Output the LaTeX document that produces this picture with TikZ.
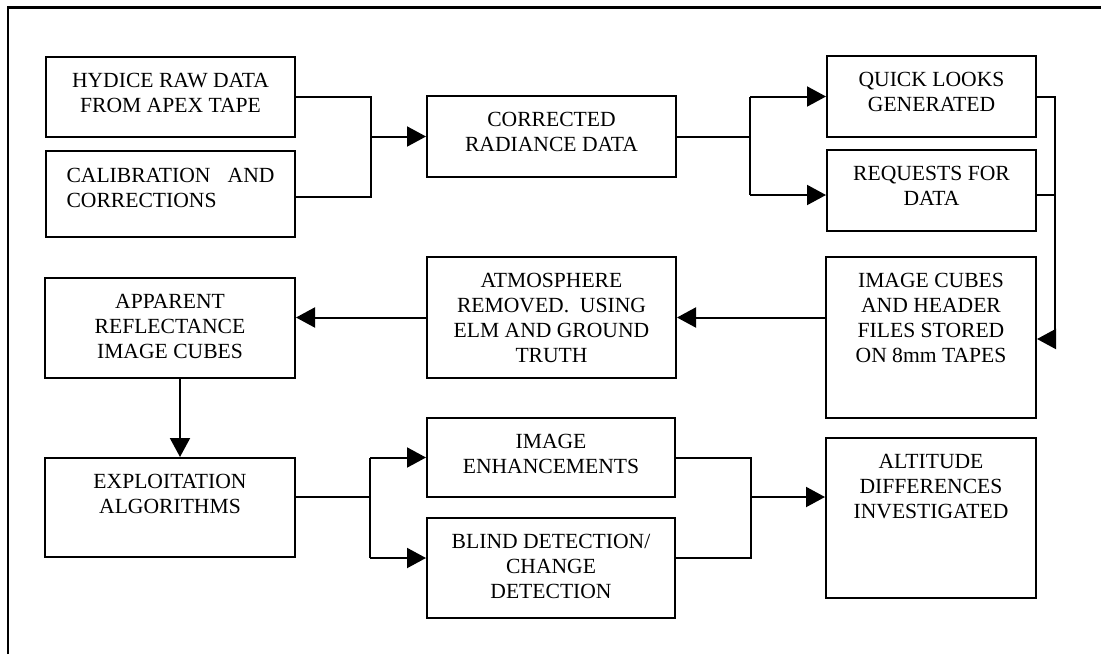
\documentclass[tikz,border=0pt]{standalone}
\usepackage{fontspec}
\setmainfont{Liberation Serif}
\usetikzlibrary{arrows.meta,calc}
\newcommand{\bxt}[3]{\parbox[c][#2pt][t]{#1pt}{\centering\vspace*{16pt}#3\par}}
\begin{document}
\begin{tikzpicture}[x=1pt,y=-1pt,
  box/.style={draw,line width=2pt,inner sep=0pt,font=\fontsize{21.6}{25}\selectfont},
  conn/.style={line width=2pt},
  arr/.style={line width=2pt,-{Triangle[length=19pt,width=20pt]}}]
\useasboundingbox (0,0) rectangle (1101,654);
% outer frame
\draw[line width=2.4pt] (8,654) -- (8,7.5) -- (1101,7.5);
% boxes
\node[box] (hyd) at (170.5,97) {\bxt{249}{80}{HYDICE RAW DATA\\FROM APEX TAPE}};
\node[box] (cal) at (170.5,194) {\parbox[c][86pt][t]{249pt}{\centering\vspace*{17pt}\parbox[t]{208pt}{CALIBRATION\hfill AND\\CORRECTIONS}\par}};
\node[box] (cor) at (551.5,136.5) {\bxt{249}{81}{CORRECTED\\RADIANCE DATA}};
\node[box] (qck) at (931.5,96.5) {\bxt{209}{81}{QUICK LOOKS\\GENERATED}};
\node[box] (req) at (931.5,190.5) {\bxt{209}{81}{REQUESTS FOR\\DATA}};
\node[box] (cub) at (931,337.5) {\bxt{210}{161}{IMAGE CUBES\\AND HEADER\\FILES STORED\\ON 8mm TAPES}};
\node[box] (atm) at (551.5,317.5) {\bxt{249}{121}{ATMOSPHERE\\REMOVED.\ \ USING\\ELM AND GROUND\\TRUTH}};
\node[box] (app) at (170,328) {\bxt{250}{100}{APPARENT\\REFLECTANCE\\IMAGE CUBES}};
\node[box] (exp) at (170,507.5) {\bxt{250}{99}{EXPLOITATION\\ALGORITHMS}};
\node[box] (enh) at (551,457.5) {\bxt{248}{79}{IMAGE\\ENHANCEMENTS}};
\node[box] (bld) at (551,568) {\bxt{248}{100}{BLIND DETECTION/\\CHANGE\\DETECTION}};
\node[box] (alt) at (931,518) {\bxt{210}{160}{ALTITUDE\\DIFFERENCES\\INVESTIGATED}};
% junction coordinates
\coordinate (jA) at (371,136.5);
\coordinate (jB) at (750,136.5);
\coordinate (jC) at (1055,96.5);
\coordinate (jD) at (370,497);
\coordinate (jE) at (751,497);
% hyd + cal -> cor
\draw[conn] (hyd.east) -- (hyd.east -| jA) -- ([yshift=-3pt]cal.east -| jA) -- ([yshift=-3pt]cal.east);
\draw[arr] (cor.west -| jA) -- (cor.west);
% cor -> qck, req
\draw[conn] (cor.east) -- (cor.east -| jB);
\draw[conn] (qck.west -| jB) -- ([yshift=-4.5pt]req.west -| jB);
\draw[arr] (qck.west -| jB) -- (qck.west);
\draw[arr] ([yshift=-4.5pt]req.west -| jB) -- ([yshift=-4.5pt]req.west);
% qck, req -> cub
\draw[conn] (qck.east) -- (qck.east -| jC) -- ([yshift=-1.5pt]cub.east -| jC);
\draw[conn] ([yshift=-4.5pt]req.east) -- ([yshift=-4.5pt]req.east -| jC);
\draw[arr] ([yshift=-1.5pt]cub.east -| jC) -- ([yshift=-1.5pt]cub.east);
% cub -> atm -> app
\draw[arr] (cub.west |- atm.east) -- (atm.east);
\draw[arr] (atm.west) -- (atm.west -| app.east);
% app -> exp
\draw[arr] ([xshift=10pt]app.south) -- ([xshift=10pt]exp.north);
% exp -> enh, bld
\draw[conn] (exp.east |- jD) -- (jD);
\draw[conn] (enh.west -| jD) -- ([yshift=10pt]bld.west -| jD);
\draw[arr] (enh.west -| jD) -- (enh.west);
\draw[arr] ([yshift=10pt]bld.west -| jD) -- ([yshift=10pt]bld.west);
% enh, bld -> alt
\draw[conn] (enh.east) -- (enh.east -| jE) -- ([yshift=10pt]bld.east -| jE) -- ([yshift=10pt]bld.east);
\draw[arr] (jE) -- (jE -| alt.west);
\end{tikzpicture}
\end{document}
